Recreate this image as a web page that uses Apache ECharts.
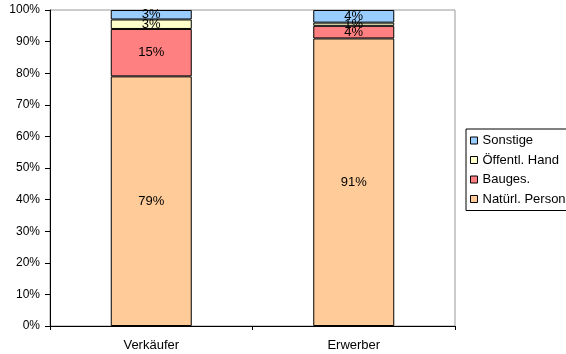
<!DOCTYPE html>
<html>
<head>
<meta charset="utf-8">
<script src="https://cdn.jsdelivr.net/npm/echarts@6/dist/echarts.min.js"></script>
<style>
  html, body { margin: 0; padding: 0; background: #fff; }
  #chart { width: 566px; height: 354px; }
</style>
</head>
<body>
<div id="chart"></div>
<script>
// Anteile nach Gruppe (Prozent)
const categories = ['Verkäufer', 'Erwerber'];
const natuerlPerson = [79, 91];
const bauges = [15, 4];
const oeffentlHand = [3, 1];
const sonstige = [3, 4];
const yTicks = [0, 10, 20, 30, 40, 50, 60, 70, 80, 90, 100];

const font = 'Liberation Sans, Arial, sans-serif';

function seg(name, values, color) {
  return {
    name: name,
    type: 'bar',
    stack: 'total',
    barWidth: '40%',
    data: values,
    itemStyle: { color: color, borderColor: '#000', borderWidth: 1 },
    label: {
      show: true,
      position: 'inside',
      formatter: '{c}%',
      color: '#000',
      fontFamily: font,
      fontSize: 13
    }
  };
}

const chart = echarts.init(document.getElementById('chart'), null, { renderer: 'canvas' });
chart.setOption({
  animation: false,
  backgroundColor: '#fff',
  grid: { left: 50, top: 10, right: 111, bottom: 28, show: true, borderColor: '#999', borderWidth: 1, backgroundColor: 'transparent' },
  xAxis: {
    type: 'category',
    data: categories,
    axisLine: { lineStyle: { color: '#000', width: 1 } },
    axisTick: { show: true, length: 4, lineStyle: { color: '#000' } },
    axisLabel: { color: '#000', fontFamily: font, fontSize: 13, margin: 13 }
  },
  yAxis: {
    type: 'value',
    min: yTicks[0],
    max: yTicks[yTicks.length - 1],
    interval: 10,
    axisLine: { show: true, lineStyle: { color: '#000', width: 1 } },
    axisTick: { show: true, length: 5, lineStyle: { color: '#000' } },
    splitLine: { show: false },
    axisLabel: { color: '#000', fontFamily: font, fontSize: 12, margin: 10, formatter: '{value}%' }
  },
  legend: {
    orient: 'vertical',
    left: 466,
    top: 129,
    width: 120,
    padding: [5, 20, 5, 4],
    itemGap: 6.5,
    itemWidth: 7,
    itemHeight: 7,
    icon: 'rect',
    borderColor: '#000',
    borderWidth: 1,
    itemStyle: { borderColor: '#000', borderWidth: 1 },
    textStyle: { color: '#000', fontFamily: font, fontSize: 13 },
    data: ['Sonstige', 'Öffentl. Hand', 'Bauges.', 'Natürl. Person']
  },
  series: [
    seg('Natürl. Person', natuerlPerson, '#FFCC99'),
    seg('Bauges.', bauges, '#FF8080'),
    seg('Öffentl. Hand', oeffentlHand, '#FFFFCC'),
    seg('Sonstige', sonstige, '#99CCFF')
  ]
});
</script>
</body>
</html>
